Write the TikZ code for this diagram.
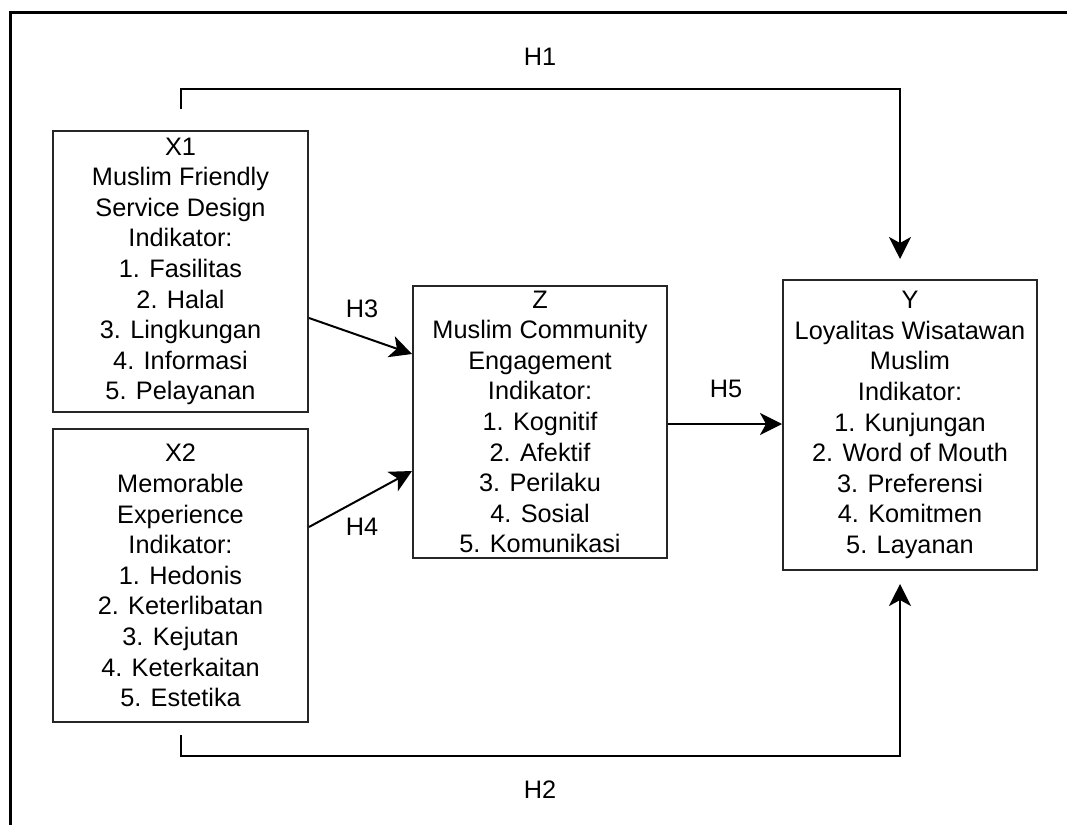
\documentclass[tikz,border=0pt]{standalone}
\usepackage{fontspec}
\setmainfont{Liberation Sans}
\usetikzlibrary{arrows.meta}
\tikzset{
  box/.style={draw=black!85, line width=2pt, rectangle, align=center, inner sep=0pt,
    font=\fontsize{25.3}{30.6}\selectfont},
  lbl/.style={font=\fontsize{25.3}{30}\selectfont, inner sep=0pt},
  arr/.style={draw=black, line width=2pt, -{Stealth[length=22pt,width=22pt,inset=6pt]}},
}
\begin{document}
\begin{tikzpicture}[x=1pt,y=-1pt]
\path[use as bounding box] (0,0) rectangle (1067,824);
\draw[line width=3pt, black] (10,840) -- (10,13) -- (1080,13);

\node[box, minimum width=255pt, minimum height=281pt] (X1) at (180.5,271.5)
  {X1\\Muslim Friendly\\Service Design\\Indikator:\\1. Fasilitas\\2. Halal\\3. Lingkungan\\4. Informasi\\5. Pelayanan};
\node[box, minimum width=255pt, minimum height=293pt] (X2) at (180.5,575.5)
  {X2\\Memorable\\Experience\\Indikator:\\1. Hedonis\\2. Keterlibatan\\3. Kejutan\\4. Keterkaitan\\5. Estetika};
\node[box, minimum width=254pt, minimum height=272pt] (Z) at (540,422)
  {Z\\Muslim Community\\Engagement\\Indikator:\\1. Kognitif\\2. Afektif\\3. Perilaku\\4. Sosial\\5. Komunikasi};
\node[box, minimum width=254pt, minimum height=290pt] (Y) at (910,425)
  {Y\\Loyalitas Wisatawan\\Muslim\\Indikator:\\1. Kunjungan\\2. Word of Mouth\\3. Preferensi\\4. Komitmen\\5. Layanan};

\coordinate (h1s) at ([yshift=21pt]X1.north);
\coordinate (h1e) at ([xshift=-10pt,yshift=20pt]Y.north);
\coordinate (h2s) at ([yshift=-12pt]X2.south);
\coordinate (h2e) at ([xshift=-10pt,yshift=-13pt]Y.south);

\draw[arr] (h1s) -- ++(0,-20) -| (h1e);
\draw[arr] (h2s) -- ++(0,21) -| (h2e);
\draw[arr] ([yshift=-46.5pt]X1.east) -- ([yshift=68pt]Z.west);
\draw[arr] ([yshift=48.5pt]X2.east) -- ([yshift=-49pt]Z.west);
\draw[arr] ([yshift=-2pt]Z.east) -- ([yshift=1pt]Y.west);

\node[lbl] (lh1) at (540,57) {H1};
\node[lbl] (lh2) at (540,790) {H2};
\node[lbl] (lh3) at (362,309) {H3};
\node[lbl] (lh4) at (362,527) {H4};
\node[lbl] (lh5) at (726,389) {H5};
\end{tikzpicture}
\end{document}
